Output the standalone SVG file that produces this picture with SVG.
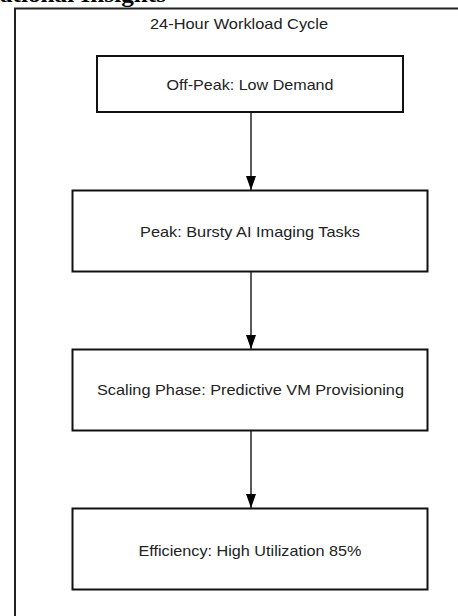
<svg xmlns="http://www.w3.org/2000/svg" width="458" height="616" viewBox="0 0 458 616">
<defs>
<style>
.node rect{fill:#fff;stroke:#111;stroke-width:2}
.lbl{font-family:"Liberation Sans",Arial,sans-serif;font-size:15px;fill:#222;text-anchor:middle;dominant-baseline:central}
.conn line{stroke:#222;stroke-width:1.5}
</style>
<marker id="arr" viewBox="0 0 14 10" refX="14" refY="5" markerWidth="14" markerHeight="10" markerUnits="userSpaceOnUse" orient="auto">
<path d="M0,0 L14,5 L0,10 Z" fill="#000"/>
</marker>
</defs>
<rect width="458" height="616" fill="#fff"/>
<text x="0" y="2" font-family="Liberation Serif,serif" font-weight="bold" font-size="24" textLength="166" lengthAdjust="spacingAndGlyphs" fill="#000">ational Insights</text>
<path d="M15,620 L15,8.5 L462,8.5" fill="none" stroke="#222" stroke-width="2"/>
<text class="lbl" x="239" y="23" textLength="178" lengthAdjust="spacingAndGlyphs">24-Hour Workload Cycle</text>
<g class="conn">
<line x1="251" y1="112" x2="251" y2="190" marker-end="url(#arr)"/>
<line x1="251" y1="272" x2="251" y2="349" marker-end="url(#arr)"/>
<line x1="251" y1="431" x2="251" y2="508" marker-end="url(#arr)"/>
</g>
<g id="n1" class="node"><rect x="97" y="56" width="306" height="56"/><text class="lbl" x="250" y="84.5" textLength="167" lengthAdjust="spacingAndGlyphs">Off-Peak: Low Demand</text></g>
<g id="n2" class="node"><rect x="72.5" y="190.5" width="355" height="81"/><text class="lbl" x="250" y="231.5" textLength="220" lengthAdjust="spacingAndGlyphs">Peak: Bursty AI Imaging Tasks</text></g>
<g id="n3" class="node"><rect x="72.5" y="349.5" width="355" height="81"/><text class="lbl" x="250.5" y="389.5" textLength="307" lengthAdjust="spacingAndGlyphs">Scaling Phase: Predictive VM Provisioning</text></g>
<g id="n4" class="node"><rect x="72.5" y="508.5" width="355" height="81"/><text class="lbl" x="250" y="550" textLength="223" lengthAdjust="spacingAndGlyphs">Efficiency: High Utilization 85%</text></g>
</svg>
